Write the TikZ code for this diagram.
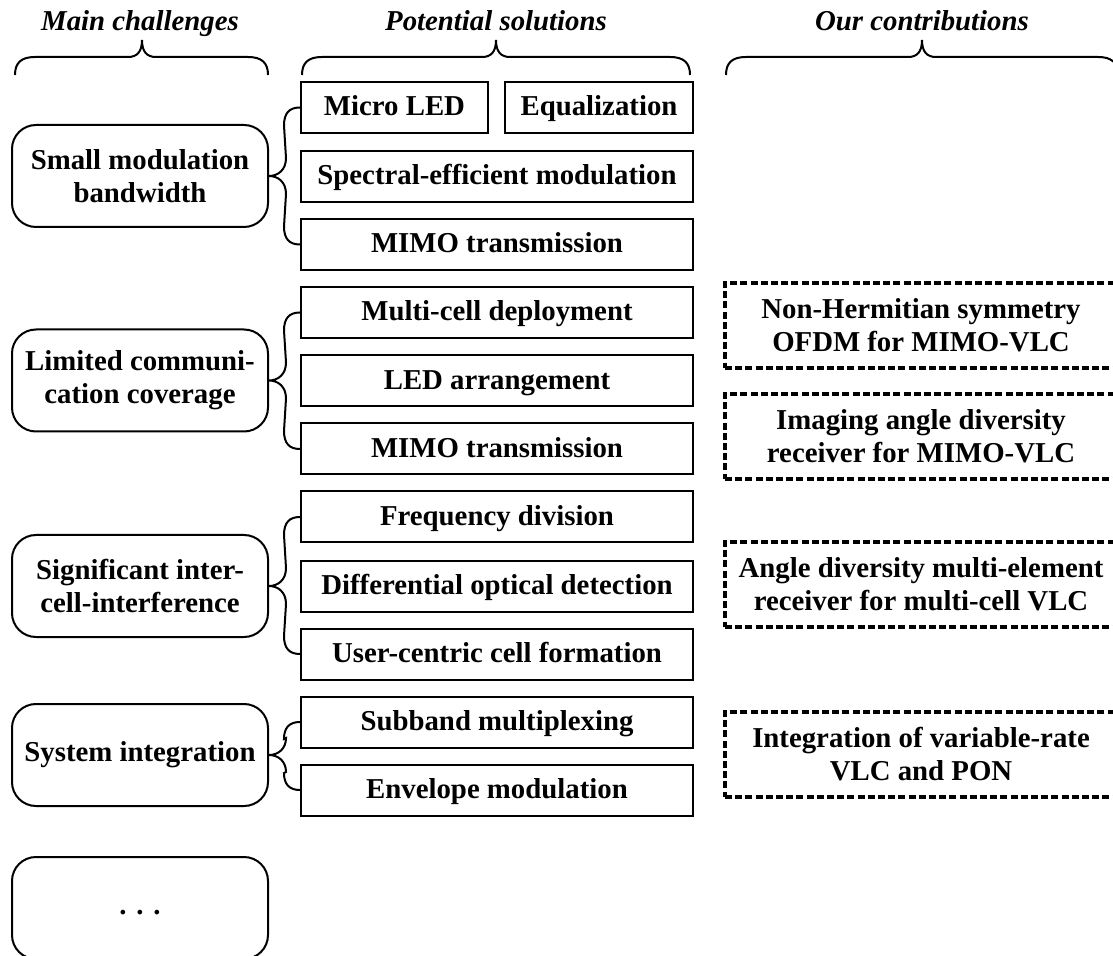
\documentclass[tikz,border=0pt]{standalone}
\usepackage{fontspec}
\setmainfont{Liberation Serif}
\usetikzlibrary{calc}
\newcommand\hdrbrace[3]{%
  \draw[brc] (#1,75) .. controls (#1,63) and (#1+6,57) .. (#1+20,57)
    -- (#2-14,57) .. controls (#2-5,57) and (#2,52) .. (#2,40)
    .. controls (#2,52) and (#2+5,57) .. (#2+14,57)
    -- (#3-20,57) .. controls (#3-6,57) and (#3,63) .. (#3,75);}
\newcommand\chbracket[4][18]{%
  \draw[brc] (#3.west) .. controls ($(#3.west)+(-11,0)$) and ($(#3.west)+(-16,6)$) .. ($(#3.west)+(-16,#1)$)
    -- ($(#2.east)+(17,-#1)$) .. controls ($(#2.east)+(17,-6)$) and ($(#2.east)+(9,0)$) .. (#2.east)
    .. controls ($(#2.east)+(9,0)$) and ($(#2.east)+(17,6)$) .. ($(#2.east)+(17,#1)$)
    -- ($(#4.west)+(-16,-#1)$) .. controls ($(#4.west)+(-16,-6)$) and ($(#4.west)+(-11,0)$) .. (#4.west);}
\begin{document}
\begin{tikzpicture}[x=0.5pt,y=-0.5pt,line width=1pt,
  every node/.style={font=\fontsize{14.4}{16.5}\selectfont\bfseries,inner sep=0pt,align=center},
  chal/.style={draw,rounded corners=12pt,minimum width=128pt,minimum height=51pt},
  sol/.style={draw,minimum width=196pt,minimum height=25.5pt,text height=9.5pt,text depth=1pt},
  contrib/.style={draw,dash pattern=on 3.5pt off 1.6pt,line width=1.6pt,minimum width=196pt,minimum height=42.5pt},
  hdr/.style={font=\fontsize{14.4}{16.5}\selectfont\bfseries\itshape,anchor=base},
  brc/.style={line width=1pt}]
\clip (0,0) rectangle (1113,956);
% headers
\node[hdr] (h1) at (140,31) {Main challenges};
\node[hdr] (h2) at (496,31) {Potential solutions};
\node[hdr] (h3) at (922,31) {Our contributions};
\hdrbrace{15}{142}{268}
\hdrbrace{302}{496}{690}
\hdrbrace{726}{922}{1118}
% challenges
\node[chal] (c1) at (140,176) {Small modulation\\bandwidth};
\node[chal] (c2) at (140,380.5) {Limited communi-\\cation coverage};
\node[chal] (c3) at (140,586) {Significant inter-\\cell-interference};
\node[chal] (c4) at (140,755) {System integration};
\node[chal] (c5) at (140,908) {\strut.\hspace{4.9pt}.\hspace{4.9pt}.};
% solutions
\node[sol,minimum width=93.5pt] (s1a) at (394.5,107.5) {Micro LED};
\node[sol,minimum width=94pt] (s1b) at (599,107.5) {Equalization};
\node[sol] (s2) at (497,176.5) {Spectral-efficient modulation};
\node[sol] (s3) at (497,244.5) {MIMO transmission};
\node[sol] (s4) at (497,312.5) {Multi-cell deployment};
\node[sol] (s5) at (497,381) {LED arrangement};
\node[sol] (s6) at (497,449) {MIMO transmission};
\node[sol] (s7) at (497,517) {Frequency division};
\node[sol] (s8) at (497,586) {Differential optical detection};
\node[sol] (s9) at (497,654) {User-centric cell formation};
\node[sol] (s10) at (497,722) {Subband multiplexing};
\node[sol] (s11) at (497,790) {Envelope modulation};
% contributions
\node[contrib] (r1) at (921,325.5) {Non-Hermitian symmetry\\OFDM for MIMO-VLC};
\node[contrib] (r2) at (921,436.5) {Imaging angle diversity\\receiver for MIMO-VLC};
\node[contrib] (r3) at (921,584.5) {Angle diversity multi-element\\receiver for multi-cell VLC};
\node[contrib] (r4) at (921,754.5) {Integration of variable-rate\\VLC and PON};
% brackets
\chbracket{c1}{s1a}{s3}
\chbracket{c2}{s4}{s6}
\chbracket{c3}{s7}{s9}
\chbracket[17]{c4}{s10}{s11}
\end{tikzpicture}
\end{document}
